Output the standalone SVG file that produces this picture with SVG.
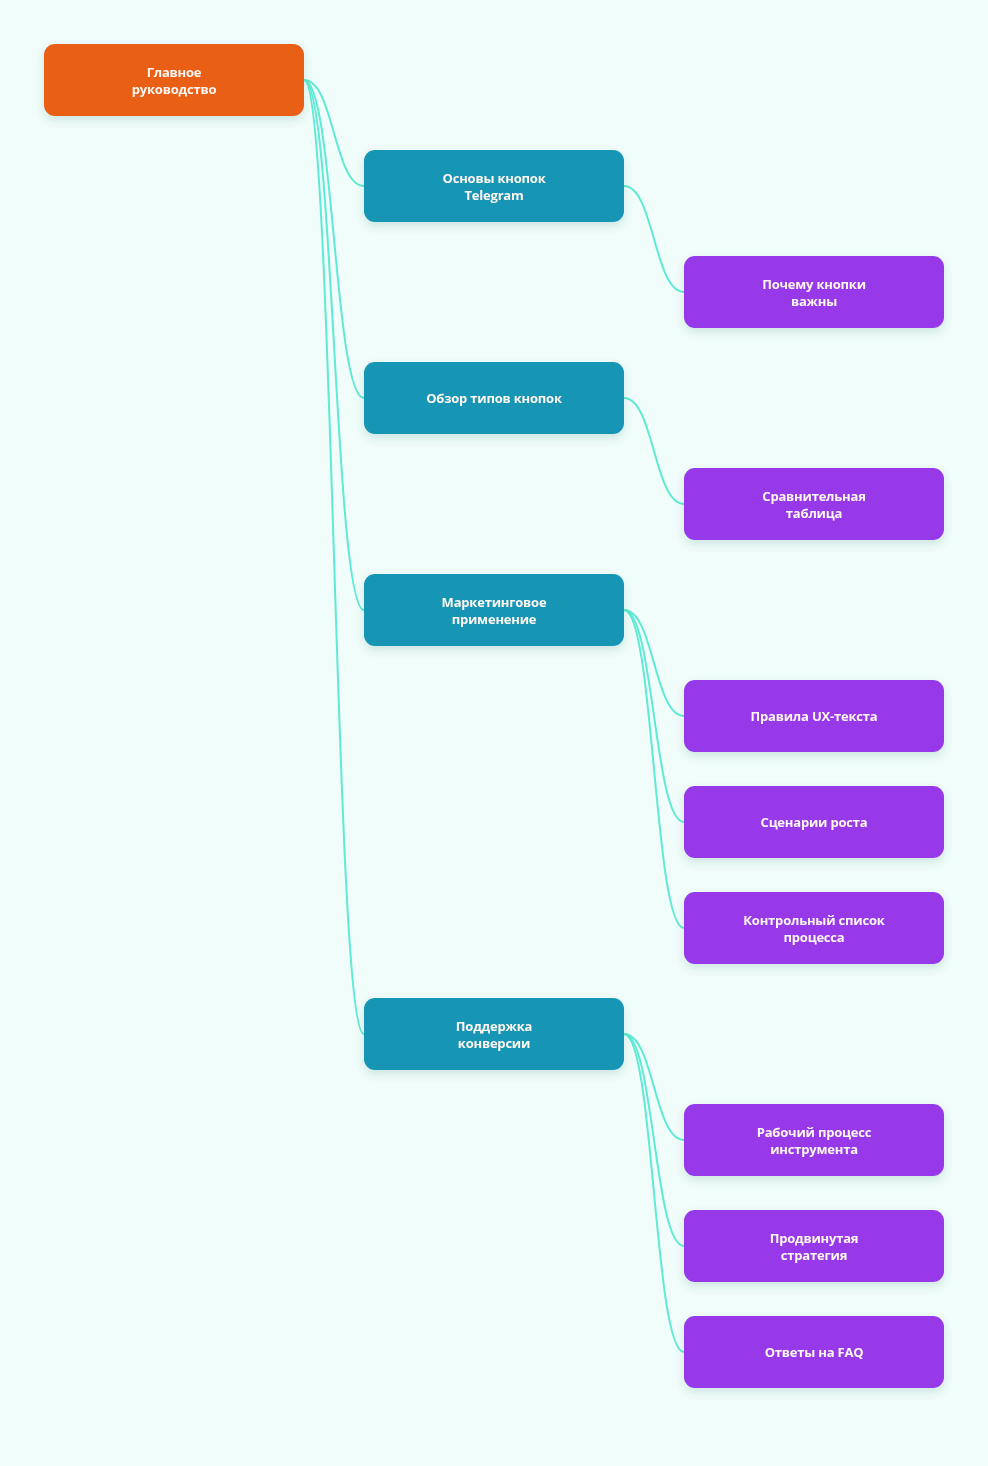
<svg xmlns="http://www.w3.org/2000/svg" width="988" height="1466" viewBox="0 0 988 1466">
<defs>
<filter id="sh" x="-20%" y="-30%" width="140%" height="170%">
<feDropShadow dx="0" dy="4" stdDeviation="5" flood-color="#0f5a50" flood-opacity="0.15"/>
</filter>
<style>
.n{filter:url(#sh)}
.root{fill:#EA5E17}
.l1{fill:#1795B5}
.l2{fill:#9738E9}
.t{font-family:"Open Sans","Noto Sans","Liberation Sans",sans-serif;font-weight:700;font-size:13px;fill:#FFF7F2;text-anchor:middle;dominant-baseline:central;letter-spacing:-0.2px}
.c{fill:none;stroke:#5EEAD4;stroke-width:2}
</style>
</defs>
<rect width="988" height="1466" fill="#F0FDFA"/>
<g id="connectors">
<path class="c" d="M304 80 C334 80 334 186 364 186"/>
<path class="c" d="M304 80 C334 80 334 398 364 398"/>
<path class="c" d="M304 80 C334 80 334 610 364 610"/>
<path class="c" d="M304 80 C334 80 334 1034 364 1034"/>
<path class="c" d="M624 186 C654 186 654 292 684 292"/>
<path class="c" d="M624 398 C654 398 654 504 684 504"/>
<path class="c" d="M624 610 C654 610 654 716 684 716"/>
<path class="c" d="M624 610 C654 610 654 822 684 822"/>
<path class="c" d="M624 610 C654 610 654 928 684 928"/>
<path class="c" d="M624 1034 C654 1034 654 1140 684 1140"/>
<path class="c" d="M624 1034 C654 1034 654 1246 684 1246"/>
<path class="c" d="M624 1034 C654 1034 654 1352 684 1352"/>
</g>
<g id="root" class="n"><rect class="root" x="44" y="44" width="260" height="72" rx="11"/><text class="t" x="174" y="72">Главное</text><text class="t" x="174" y="89">руководство</text></g>
<g id="osnovy" class="n"><rect class="l1" x="364" y="150" width="260" height="72" rx="11"/><text class="t" x="494" y="178">Основы кнопок</text><text class="t" x="494" y="195">Telegram</text></g>
<g id="obzor" class="n"><rect class="l1" x="364" y="362" width="260" height="72" rx="11"/><text class="t" x="494" y="398">Обзор типов кнопок</text></g>
<g id="marketing" class="n"><rect class="l1" x="364" y="574" width="260" height="72" rx="11"/><text class="t" x="494" y="602">Маркетинговое</text><text class="t" x="494" y="619">применение</text></g>
<g id="podderzhka" class="n"><rect class="l1" x="364" y="998" width="260" height="72" rx="11"/><text class="t" x="494" y="1026">Поддержка</text><text class="t" x="494" y="1043">конверсии</text></g>
<g id="pochemu" class="n"><rect class="l2" x="684" y="256" width="260" height="72" rx="11"/><text class="t" x="814" y="284">Почему кнопки</text><text class="t" x="814" y="301">важны</text></g>
<g id="sravn" class="n"><rect class="l2" x="684" y="468" width="260" height="72" rx="11"/><text class="t" x="814" y="496">Сравнительная</text><text class="t" x="814" y="513">таблица</text></g>
<g id="ux" class="n"><rect class="l2" x="684" y="680" width="260" height="72" rx="11"/><text class="t" x="814" y="716">Правила UX-текста</text></g>
<g id="scen" class="n"><rect class="l2" x="684" y="786" width="260" height="72" rx="11"/><text class="t" x="814" y="822">Сценарии роста</text></g>
<g id="kontrol" class="n"><rect class="l2" x="684" y="892" width="260" height="72" rx="11"/><text class="t" x="814" y="920">Контрольный список</text><text class="t" x="814" y="937">процесса</text></g>
<g id="rabochiy" class="n"><rect class="l2" x="684" y="1104" width="260" height="72" rx="11"/><text class="t" x="814" y="1132">Рабочий процесс</text><text class="t" x="814" y="1149">инструмента</text></g>
<g id="prodv" class="n"><rect class="l2" x="684" y="1210" width="260" height="72" rx="11"/><text class="t" x="814" y="1238">Продвинутая</text><text class="t" x="814" y="1255">стратегия</text></g>
<g id="faq" class="n"><rect class="l2" x="684" y="1316" width="260" height="72" rx="11"/><text class="t" x="814" y="1352">Ответы на FAQ</text></g>
</svg>
